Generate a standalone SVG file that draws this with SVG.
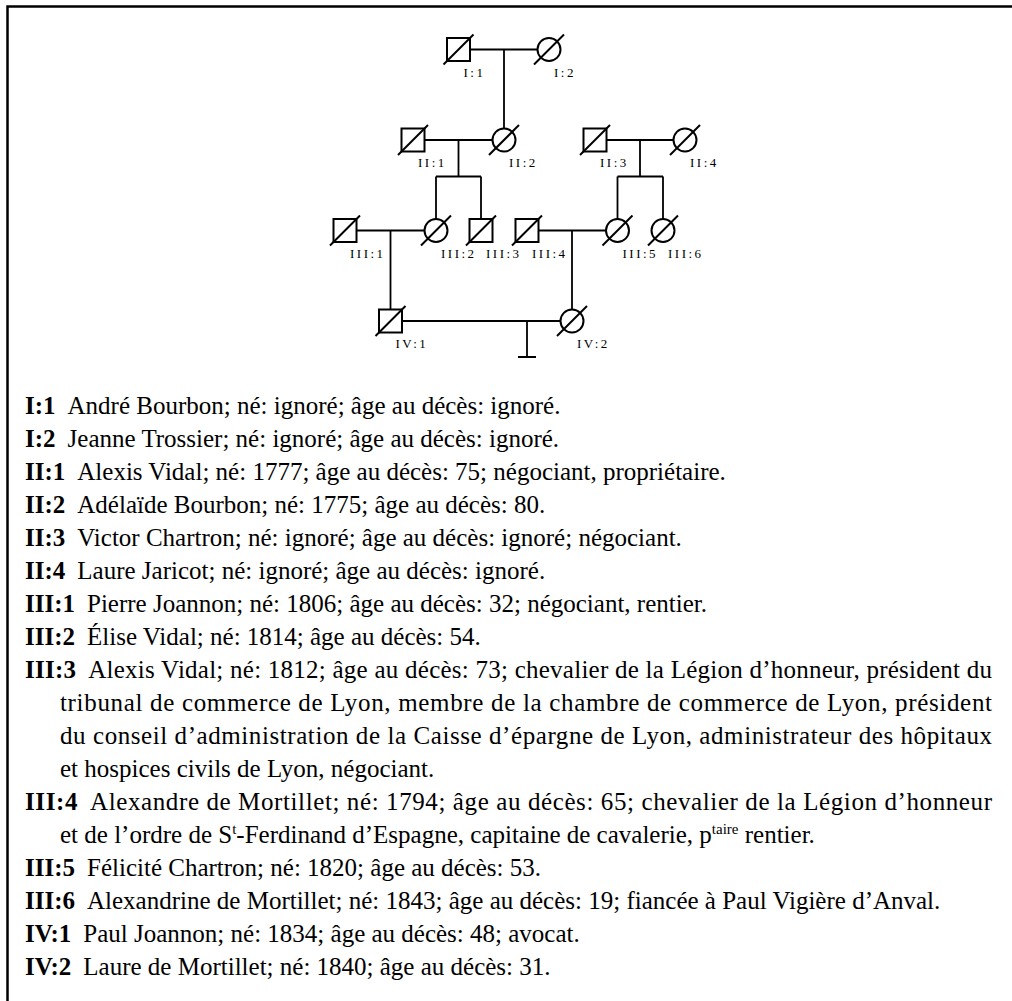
<svg xmlns="http://www.w3.org/2000/svg" width="1012" height="1001" viewBox="0 0 1012 1001">
  <style>
    .frame { fill: none; stroke: #000; stroke-width: 2.5; }
    .ln { fill: none; stroke: #000; stroke-width: 1.8; }
    .sym { fill: #fff; stroke: #000; stroke-width: 2; }
    .dead { stroke: #000; stroke-width: 2; }
    .lbl { font-family: "Liberation Serif", "DejaVu Serif", serif; font-size: 13px; letter-spacing: 2.5px; fill: #000; }
    .t { font-family: "Liberation Serif", "DejaVu Serif", serif; font-size: 25px; fill: #000; }
    .b { font-weight: bold; }
    .sup { font-size: 15px; }
  </style>
  <defs>
    <rect id="male" x="-11.5" y="-11.5" width="23" height="23" class="sym"/>
    <circle id="female" r="11.5" class="sym"/>
    <line id="slash" x1="-15" y1="15" x2="15" y2="-15" class="dead"/>
  </defs>

  <rect width="1012" height="1001" fill="#fff"/>
  <path class="frame" d="M7.5 1001 V6.5 H1012"/>

  <!-- pedigree lines: marriages, descent, sibships -->
  <g id="connectors" class="ln">
    <path d="M470 49.5 H537.5 M504 49.5 V128.5"/>
    <path d="M424.5 140 H492.5 M458.5 140 V176.5 M436 176.5 H481 M436 176.5 V219 M481 176.5 V219"/>
    <path d="M606.5 140 H673.5 M640 140 V176.5 M617.5 176.5 H663 M617.5 176.5 V219 M663 176.5 V219"/>
    <path d="M356.5 230.5 H424.5 M390.5 230.5 V309.5"/>
    <path d="M538.5 230.5 H606 M572 230.5 V309.5"/>
    <path d="M402 321 H560.5 M527 321 V357 M518 357 H536"/>
  </g>

  <!-- generation I -->
  <g id="I-1" transform="translate(458.5 49.5)"><use href="#male"/><use href="#slash"/><text class="lbl" x="5" y="27">I:1</text></g>
  <g id="I-2" transform="translate(549 49.5)"><use href="#female"/><use href="#slash"/><text class="lbl" x="5" y="27">I:2</text></g>
  <!-- generation II -->
  <g id="II-1" transform="translate(413 140)"><use href="#male"/><use href="#slash"/><text class="lbl" x="5" y="27">II:1</text></g>
  <g id="II-2" transform="translate(504 140)"><use href="#female"/><use href="#slash"/><text class="lbl" x="5" y="27">II:2</text></g>
  <g id="II-3" transform="translate(595 140)"><use href="#male"/><use href="#slash"/><text class="lbl" x="5" y="27">II:3</text></g>
  <g id="II-4" transform="translate(685 140)"><use href="#female"/><use href="#slash"/><text class="lbl" x="5" y="27">II:4</text></g>
  <!-- generation III -->
  <g id="III-1" transform="translate(345 230.5)"><use href="#male"/><use href="#slash"/><text class="lbl" x="5" y="27">III:1</text></g>
  <g id="III-2" transform="translate(436 230.5)"><use href="#female"/><use href="#slash"/><text class="lbl" x="5" y="27">III:2</text></g>
  <g id="III-3" transform="translate(481 230.5)"><use href="#male"/><use href="#slash"/><text class="lbl" x="5" y="27">III:3</text></g>
  <g id="III-4" transform="translate(527 230.5)"><use href="#male"/><use href="#slash"/><text class="lbl" x="5" y="27">III:4</text></g>
  <g id="III-5" transform="translate(617.5 230.5)"><use href="#female"/><use href="#slash"/><text class="lbl" x="5" y="27">III:5</text></g>
  <g id="III-6" transform="translate(663 230.5)"><use href="#female"/><use href="#slash"/><text class="lbl" x="5" y="27">III:6</text></g>
  <!-- generation IV -->
  <g id="IV-1" transform="translate(390.5 321)"><use href="#male"/><use href="#slash"/><text class="lbl" x="5" y="27">IV:1</text></g>
  <g id="IV-2" transform="translate(572 321)"><use href="#female"/><use href="#slash"/><text class="lbl" x="5" y="27">IV:2</text></g>

  <!-- legend entries -->
  <g id="legend" class="t">
    <text x="25" y="414"><tspan class="b">I:1</tspan><tspan dx="12">André Bourbon; né: ignoré; âge au décès: ignoré.</tspan></text>
    <text x="25" y="447"><tspan class="b">I:2</tspan><tspan dx="12">Jeanne Trossier; né: ignoré; âge au décès: ignoré.</tspan></text>
    <text x="25" y="480"><tspan class="b">II:1</tspan><tspan dx="12">Alexis Vidal; né: 1777; âge au décès: 75; négociant, propriétaire.</tspan></text>
    <text x="25" y="513"><tspan class="b">II:2</tspan><tspan dx="12">Adélaïde Bourbon; né: 1775; âge au décès: 80.</tspan></text>
    <text x="25" y="546"><tspan class="b">II:3</tspan><tspan dx="12">Victor Chartron; né: ignoré; âge au décès: ignoré; négociant.</tspan></text>
    <text x="25" y="579"><tspan class="b">II:4</tspan><tspan dx="12">Laure Jaricot; né: ignoré; âge au décès: ignoré.</tspan></text>
    <text x="25" y="612"><tspan class="b">III:1</tspan><tspan dx="12">Pierre Joannon; né: 1806; âge au décès: 32; négociant, rentier.</tspan></text>
    <text x="25" y="645"><tspan class="b">III:2</tspan><tspan dx="12">Élise Vidal; né: 1814; âge au décès: 54.</tspan></text>
    <text x="25" y="678" textLength="967"><tspan class="b">III:3</tspan><tspan dx="12">Alexis Vidal; né: 1812; âge au décès: 73; chevalier de la Légion d’honneur, président du</tspan></text>
    <text x="60" y="711" textLength="932">tribunal de commerce de Lyon, membre de la chambre de commerce de Lyon, président</text>
    <text x="60" y="744" textLength="932">du conseil d’administration de la Caisse d’épargne de Lyon, administrateur des hôpitaux</text>
    <text x="60" y="777">et hospices civils de Lyon, négociant.</text>
    <text x="25" y="810" textLength="967"><tspan class="b">III:4</tspan><tspan dx="12">Alexandre de Mortillet; né: 1794; âge au décès: 65; chevalier de la Légion d’honneur</tspan></text>
    <text x="60" y="843">et de l’ordre de S<tspan class="sup" dy="-9">t</tspan><tspan dy="9">-Ferdinand d’Espagne, capitaine de cavalerie, p</tspan><tspan class="sup" dy="-9">taire</tspan><tspan dy="9"> rentier.</tspan></text>
    <text x="25" y="876"><tspan class="b">III:5</tspan><tspan dx="12">Félicité Chartron; né: 1820; âge au décès: 53.</tspan></text>
    <text x="25" y="909"><tspan class="b">III:6</tspan><tspan dx="12">Alexandrine de Mortillet; né: 1843; âge au décès: 19; fiancée à Paul Vigière d’Anval.</tspan></text>
    <text x="25" y="942"><tspan class="b">IV:1</tspan><tspan dx="12">Paul Joannon; né: 1834; âge au décès: 48; avocat.</tspan></text>
    <text x="25" y="975"><tspan class="b">IV:2</tspan><tspan dx="12">Laure de Mortillet; né: 1840; âge au décès: 31.</tspan></text>
  </g>
</svg>
